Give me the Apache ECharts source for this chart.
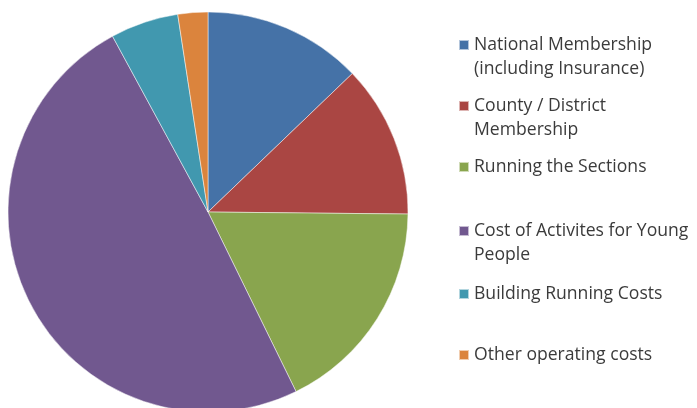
<!DOCTYPE html>
<html>
<head>
<meta charset="utf-8">
<script src="https://cdn.jsdelivr.net/npm/echarts@6/dist/echarts.min.js"></script>
<style>
html,body{margin:0;padding:0;background:#fff;}
#chart{width:697px;height:408px;}
</style>
</head>
<body>
<div id="chart"></div>
<script>
const categories = [
  'National Membership (including Insurance)',
  'County / District Membership',
  'Running the Sections',
  'Cost of Activites for Young People',
  'Building Running Costs',
  'Other operating costs'
];
const legendLabels = [
  'National Membership\n(including Insurance)',
  'County / District\nMembership',
  'Running the Sections',
  'Cost of Activites for Young\nPeople',
  'Building Running Costs',
  'Other operating costs'
];
const values = [12.83, 12.33, 17.58, 49.33, 5.50, 2.42];
const colors = ['#4572A7', '#AA4643', '#89A54E', '#71588F', '#4198AF', '#DB843D'];

const legendCenters = [45, 106, 167, 231, 294, 355];
const iconSize = 10;
const lineH = 24;

const legends = categories.map((name, i) => {
  const extra = legendLabels[i].split('\n').length - 1;
  // pad with empty lines above so the first text line sits at the block centre (icon centre)
  const text = '\n'.repeat(extra) + legendLabels[i];
  const nLines = 1 + 2 * extra;
  return {
    data: [name],
    left: 458,
    top: legendCenters[i] - nLines * lineH / 2,
    orient: 'vertical',
    padding: 0,
    icon: 'rect',
    itemWidth: iconSize,
    itemHeight: iconSize,
    itemGap: 0,
    selectedMode: false,
    formatter: () => text,
    textStyle: {
      fontFamily: 'Open Sans',
      fontSize: 17.6,
      color: '#3b3b3b',
      lineHeight: lineH
    }
  };
});

const chart = echarts.init(document.getElementById('chart'), null, {renderer: 'canvas'});
chart.setOption({
  animation: false,
  backgroundColor: '#fff',
  color: colors,
  legend: legends,
  series: [{
    type: 'pie',
    center: [208, 212],
    radius: 200,
    startAngle: 90,
    clockwise: true,
    avoidLabelOverlap: false,
    label: {show: false},
    labelLine: {show: false},
    itemStyle: {borderColor: 'rgba(255,255,255,0.6)', borderWidth: 0.8},
    emphasis: {disabled: true},
    data: categories.map((n, i) => ({name: n, value: values[i]}))
  }]
});
</script>
</body>
</html>
